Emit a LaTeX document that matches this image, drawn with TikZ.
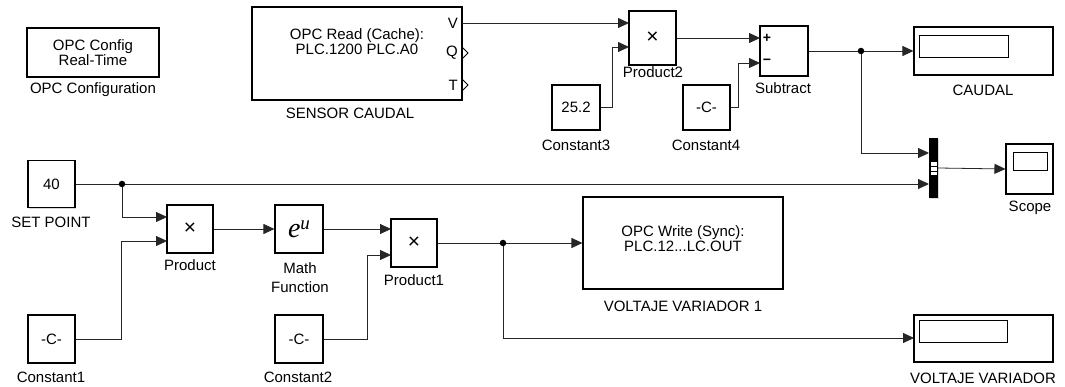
\documentclass[tikz,border=0pt]{standalone}
\usepackage{fontspec}
\setmainfont{Liberation Sans}
\newfontfamily\eufont{Liberation Serif}
\usetikzlibrary{arrows.meta,shadows,calc}
\begin{document}
\begin{tikzpicture}[x=1pt,y=-1pt,
  every node/.style={font=\fontsize{15}{17}\selectfont},
  blk/.style={draw,line width=1.1pt,fill=white,inner sep=0pt,align=center,
    drop shadow={shadow xshift=1.4pt,shadow yshift=-1.4pt,fill=black!30}},
  lbl/.style={inner sep=0pt,align=center,font=\fontsize{15}{19}\selectfont},
  big/.style={font=\fontsize{21}{21}\selectfont},
  wire/.style={line width=0.8pt,draw=black!85},
  arr/.style={wire,-{Triangle[length=11pt,width=10pt]}},
  dot/.style={circle,fill=black,inner sep=0pt,minimum size=6.5pt}]
\useasboundingbox (0,0) rectangle (1065,387);

% ---------- blocks ----------
\node[blk,minimum width=132,minimum height=49] (cfg) at (93,52.5) {OPC Config\\[-2pt]Real-Time};
\node[lbl] (cfgl) at (93,90) {OPC Configuration};

\node[blk,minimum width=210,minimum height=93] (read) at (357,53.5) {};
\node[lbl,font=\fontsize{15}{15}\selectfont] (readt) at (357,42) {OPC Read (Cache):\\PLC.1200 PLC.A0};
\node[lbl,anchor=east] (pv) at (458,23) {V};
\node[lbl,anchor=east] (pq) at (458,53) {Q};
\node[lbl,anchor=east] (pt) at (458,85) {T};
\draw[line width=0.9pt] (462,47) -- (468,53) -- (462,59);
\draw[line width=0.9pt] (462,79) -- (468,85) -- (462,91);
\node[lbl] (readl) at (350,113) {SENSOR CAUDAL};

\node[blk,big,minimum width=47,minimum height=54] (prod2) at (652.5,38) {×};
\node[lbl] (prod2l) at (653,72) {Product2};

\node[blk,minimum width=48,minimum height=45] (c3) at (576,107.5) {25.2};
\node[lbl] (c3l) at (576,145) {Constant3};

\node[blk,minimum width=47,minimum height=45] (c4) at (706.5,107.5) {-C-};
\node[lbl] (c4l) at (706,145) {Constant4};

\node[blk,minimum width=48,minimum height=50] (sub) at (784,51) {};
\node[lbl,font=\fontsize{14}{14}\selectfont\bfseries] (plus) at (767,38) {+};
\node[lbl,font=\fontsize{14}{14}\selectfont\bfseries] (minus) at (767,62) {\textminus};
\node[lbl] (subl) at (783,88) {Subtract};

\node[blk,minimum width=139,minimum height=48] (caudal) at (983.5,51) {};
\draw[line width=0.9pt] (919,35) rectangle (1008,57);
\node[lbl] (caudall) at (983,90) {CAUDAL};

\node[fill=black,minimum width=9,minimum height=60,inner sep=0pt,
  drop shadow={shadow xshift=1.2pt,shadow yshift=-1.2pt,fill=black!30}] (mux) at (933.5,168) {};
\fill[white] (931,162.5) rectangle (936.5,175.5);
\draw[line width=0.7pt] (931,166.5) -- (936.5,166.5) (931,171) -- (936.5,171);

\node[blk,minimum width=47,minimum height=50] (scope) at (1029.5,169) {};
\draw[line width=0.9pt] (1013,152) rectangle (1047,170);
\node[lbl] (scopel) at (1030,208) {Scope};

\node[blk,minimum width=47,minimum height=47] (sp) at (51.5,184) {40};
\node[lbl] (spl) at (51,222) {SET POINT};

\node[blk,big,minimum width=46,minimum height=48] (prod) at (190,229) {×};
\node[lbl] (prodl) at (190,265) {Product};

\node[blk,minimum width=48,minimum height=48] (math) at (299,229)
  {\eufont\itshape\fontsize{28}{28}\selectfont e\raisebox{8pt}{\fontsize{19}{19}\selectfont u}};
\node[lbl] (mathl) at (300,278) {Math\\Function};

\node[blk,big,minimum width=46,minimum height=48] (p1) at (414,243) {×};
\node[lbl] (p1l) at (414,280) {Product1};

\node[blk,minimum width=47,minimum height=48] (c1) at (51.5,339) {-C-};
\node[lbl] (c1l) at (51,377) {Constant1};

\node[blk,minimum width=48,minimum height=48] (c2) at (299,339) {-C-};
\node[lbl] (c2l) at (298,377) {Constant2};

\node[blk,minimum width=200,minimum height=92] (write) at (683,243) {};
\node[lbl,font=\fontsize{15}{15}\selectfont] (writet) at (683,239) {OPC Write (Sync):\\PLC.12...LC.OUT};
\node[lbl] (writel) at (683,306) {VOLTAJE VARIADOR 1};

\node[blk,minimum width=139,minimum height=47] (vv) at (983.5,338.5) {};
\draw[line width=0.9pt] (919,320) rectangle (1007,342);
\node[lbl] (vvl) at (983,378) {VOLTAJE VARIADOR};

% ---------- ports ----------
\coordinate (rv) at (462,23);
\coordinate (p2a) at (629,23);
\coordinate (p2b) at (629,47);
\coordinate (sa) at (760,38);
\coordinate (sb) at (760,63);
\coordinate (j1) at (861,51);
\coordinate (ma) at (929,153);
\coordinate (mb) at (929,184);
\coordinate (j2) at (122,184);
\coordinate (pa) at (167,217);
\coordinate (pb) at (167,241);
\coordinate (p1a) at (391,229);
\coordinate (p1b) at (391,255);
\coordinate (j3) at (503,243);
\coordinate (vvin) at (914,338);

% ---------- wires ----------
\draw[arr] (rv) -- (p2a);
\draw[arr] (c3.east) -- ++(12,0) |- (p2b);
\draw[arr] (prod2.east) -- (sa);
\draw[arr] (c4.east) -- ++(8,0) |- (sb);
\draw[wire] (sub.east) -- (j1);
\draw[arr] (j1) -- (caudal.west);
\draw[arr] (j1) |- (ma);
\draw[arr] (mux.east) -- (scope.west);
\draw[wire] (sp.east) -- (j2);
\draw[arr] (j2) -- (mb);
\draw[arr] (j2) |- (pa);
\draw[arr] (c1.east) -- ++(46,0) |- (pb);
\draw[arr] (prod.east) -- (math.west);
\draw[arr] (math.east) -- (p1a);
\draw[arr] (c2.east) -- ++(44,0) |- (p1b);
\draw[wire] (p1.east) -- (j3);
\draw[arr] (j3) -- (write.west);
\draw[arr] (j3) |- (vvin);
\node[dot] (d1) at (j1) {};
\node[dot] (d2) at (j2) {};
\node[dot] (d3) at (j3) {};
\end{tikzpicture}
\end{document}
